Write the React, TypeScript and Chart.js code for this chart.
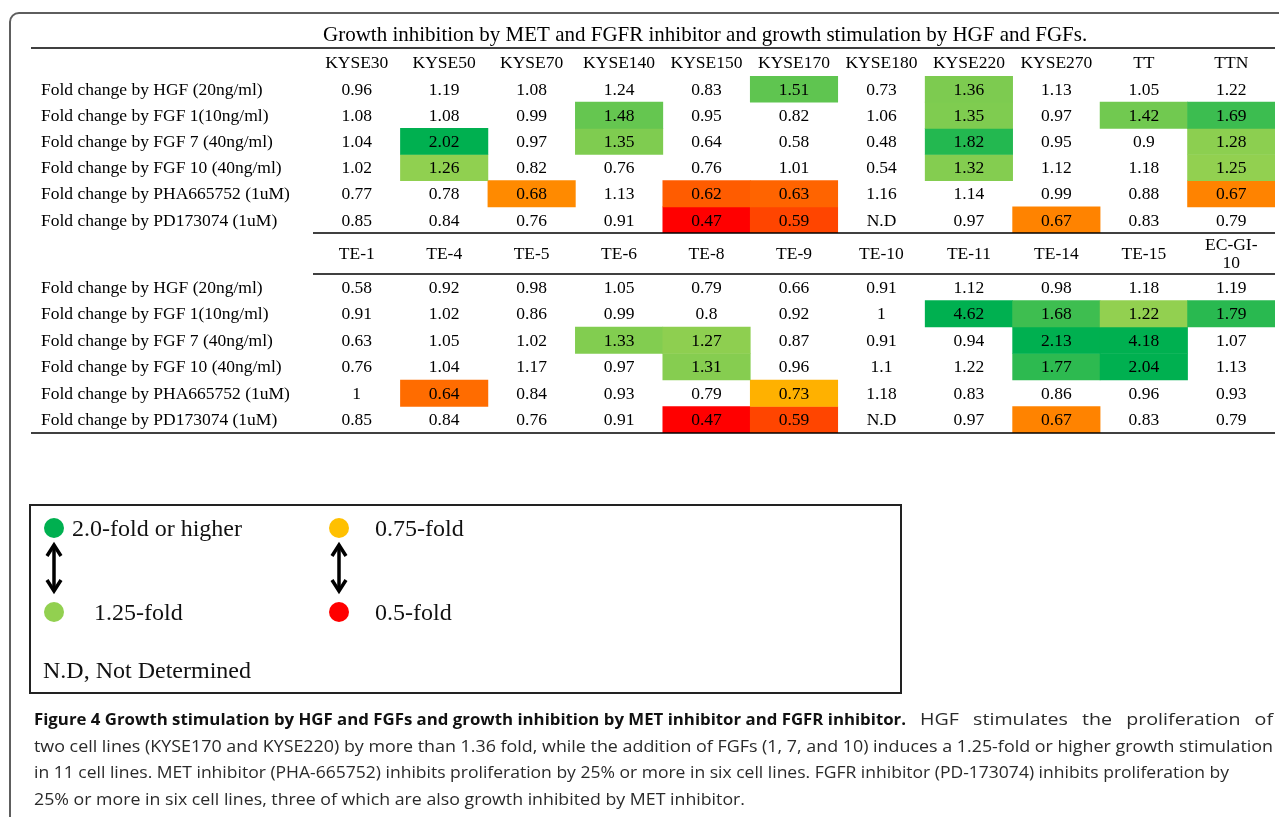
import React, { useEffect, useRef } from 'react';
import { Chart, registerables } from 'chart.js';

Chart.register(...registerables);

// ---------- data ----------
const tableTitle = 'Growth inhibition by MET and FGFR inhibitor and growth stimulation by HGF and FGFs.';

const rowLabels = [
  'Fold change by HGF (20ng/ml)',
  'Fold change by FGF 1(10ng/ml)',
  'Fold change by FGF 7 (40ng/ml)',
  'Fold change by FGF 10 (40ng/ml)',
  'Fold change by PHA665752 (1uM)',
  'Fold change by PD173074 (1uM)',
];
// first rows are stimulation (green scale), the rest inhibition (red scale)
const stimulationRowCount = 4;

const kyseColumns = ['KYSE30', 'KYSE50', 'KYSE70', 'KYSE140', 'KYSE150', 'KYSE170', 'KYSE180', 'KYSE220', 'KYSE270', 'TT', 'TTN'];
const kyseHGF = [0.96, 1.19, 1.08, 1.24, 0.83, 1.51, 0.73, 1.36, 1.13, 1.05, 1.22];
const kyseFGF1 = [1.08, 1.08, 0.99, 1.48, 0.95, 0.82, 1.06, 1.35, 0.97, 1.42, 1.69];
const kyseFGF7 = [1.04, 2.02, 0.97, 1.35, 0.64, 0.58, 0.48, 1.82, 0.95, 0.9, 1.28];
const kyseFGF10 = [1.02, 1.26, 0.82, 0.76, 0.76, 1.01, 0.54, 1.32, 1.12, 1.18, 1.25];
const kysePHA = [0.77, 0.78, 0.68, 1.13, 0.62, 0.63, 1.16, 1.14, 0.99, 0.88, 0.67];
const kysePD = [0.85, 0.84, 0.76, 0.91, 0.47, 0.59, null, 0.97, 0.67, 0.83, 0.79];
const kyseHighlight = [
  [0, 0, 0, 0, 0, 1, 0, 1, 0, 0, 0],
  [0, 0, 0, 1, 0, 0, 0, 1, 0, 1, 1],
  [0, 1, 0, 1, 0, 0, 0, 1, 0, 0, 1],
  [0, 1, 0, 0, 0, 0, 0, 1, 0, 0, 1],
  [0, 0, 1, 0, 1, 1, 0, 0, 0, 0, 1],
  [0, 0, 0, 0, 1, 1, 0, 0, 1, 0, 0],
];

const teColumns: (string | string[])[] = ['TE-1', 'TE-4', 'TE-5', 'TE-6', 'TE-8', 'TE-9', 'TE-10', 'TE-11', 'TE-14', 'TE-15', ['EC-GI-', '10']];
const teHGF = [0.58, 0.92, 0.98, 1.05, 0.79, 0.66, 0.91, 1.12, 0.98, 1.18, 1.19];
const teFGF1 = [0.91, 1.02, 0.86, 0.99, 0.8, 0.92, 1, 4.62, 1.68, 1.22, 1.79];
const teFGF7 = [0.63, 1.05, 1.02, 1.33, 1.27, 0.87, 0.91, 0.94, 2.13, 4.18, 1.07];
const teFGF10 = [0.76, 1.04, 1.17, 0.97, 1.31, 0.96, 1.1, 1.22, 1.77, 2.04, 1.13];
const tePHA = [1, 0.64, 0.84, 0.93, 0.79, 0.73, 1.18, 0.83, 0.86, 0.96, 0.93];
const tePD = [0.85, 0.84, 0.76, 0.91, 0.47, 0.59, null, 0.97, 0.67, 0.83, 0.79];
const teHighlight = [
  [0, 0, 0, 0, 0, 0, 0, 0, 0, 0, 0],
  [0, 0, 0, 0, 0, 0, 0, 1, 1, 1, 1],
  [0, 0, 0, 1, 1, 0, 0, 0, 1, 1, 0],
  [0, 0, 0, 0, 1, 0, 0, 0, 1, 1, 0],
  [0, 1, 0, 0, 0, 1, 0, 0, 0, 0, 0],
  [0, 0, 0, 0, 1, 1, 0, 0, 1, 0, 0],
];

const legendHigh = '2.0-fold or higher';
const legendMid = '1.25-fold';
const legendWarn = '0.75-fold';
const legendLow = '0.5-fold';
const legendND = 'N.D, Not Determined';

const captionBold = 'Figure 4 Growth stimulation by HGF and FGFs and growth inhibition by MET inhibitor and FGFR inhibitor.';
const captionLines = [
  'HGF stimulates the proliferation of',
  'two cell lines (KYSE170 and KYSE220) by more than 1.36 fold, while the addition of FGFs (1, 7, and 10) induces a 1.25-fold or higher growth stimulation',
  'in 11 cell lines. MET inhibitor (PHA-665752) inhibits proliferation by 25% or more in six cell lines. FGFR inhibitor (PD-173074) inhibits proliferation by',
  '25% or more in six cell lines, three of which are also growth inhibited by MET inhibitor.',
];

// ---------- styling ----------
const SERIF = '"Liberation Serif", "Times New Roman", Times, serif';
const SANS = '"Open Sans", "Noto Sans", sans-serif';
const TABLE_FONT = `17.5px ${SERIF}`;
const TITLE_FONT = `21px ${SERIF}`;

const GREEN_LOW = [0x92, 0xd0, 0x50];
const GREEN_HIGH = [0x00, 0xb0, 0x50];
const RED_LOW = [0xff, 0x00, 0x00];
const RED_HIGH = [0xff, 0xc0, 0x00];

function mix(a: number[], b: number[], t: number) {
  const k = Math.max(0, Math.min(1, t));
  const c = a.map((v, i) => Math.round(v + (b[i] - v) * k));
  return `rgb(${c[0]},${c[1]},${c[2]})`;
}

function cellColor(v: number, row: number) {
  if (row < stimulationRowCount) return mix(GREEN_LOW, GREEN_HIGH, (v - 1.25) / 0.75);
  return mix(RED_LOW, RED_HIGH, (v - 0.5) / 0.25);
}

type Rule = { at: 'headerTop' | 'top' | 'bottom'; full: boolean };
type TableCfg = {
  columns: (string | string[])[];
  rows: (number | null)[][];
  mask: number[][];
  headerHeight: number;
  padTop: number;
  padBottom: number;
  rules: Rule[];
  title?: string;
};

function makeTable(canvas: HTMLCanvasElement, cfg: TableCfg) {
  const datasets = cfg.rows.map((vals, r) => ({
    label: rowLabels[r],
    data: vals.map(() => [r, r + 1]),
    backgroundColor: vals.map((v, c) => (cfg.mask[r][c] && v != null ? cellColor(v, r) : 'rgba(0,0,0,0)')),
    borderWidth: 0,
    borderSkipped: false,
    barPercentage: 1,
    categoryPercentage: 1,
    grouped: false,
  }));

  const textPlugin = {
    id: 'tableText',
    afterDatasetsDraw(chart: any) {
      const { ctx, chartArea: a, scales } = chart;
      const y = scales.y;
      const headerTop = a.top - cfg.headerHeight;
      ctx.save();
      ctx.fillStyle = '#000';
      ctx.strokeStyle = '#000';
      ctx.lineWidth = 1.5;
      cfg.rules.forEach((rule) => {
        const yy = rule.at === 'headerTop' ? headerTop : rule.at === 'top' ? a.top : a.bottom;
        ctx.beginPath();
        ctx.moveTo(rule.full ? 0 : a.left, yy);
        ctx.lineTo(a.right, yy);
        ctx.stroke();
      });
      if (cfg.title) {
        ctx.font = TITLE_FONT;
        ctx.textAlign = 'left';
        ctx.textBaseline = 'middle';
        ctx.fillText(cfg.title, 292, headerTop - 13);
      }
      ctx.font = TABLE_FONT;
      ctx.textBaseline = 'middle';
      // cell values
      chart.data.datasets.forEach((_ds: any, r: number) => {
        const meta = chart.getDatasetMeta(r);
        meta.data.forEach((bar: any, c: number) => {
          const v = cfg.rows[r][c];
          ctx.textAlign = 'center';
          ctx.fillText(v == null ? 'N.D' : String(v), bar.x, y.getPixelForValue(r + 0.5) + 1);
        });
      });
      // row labels
      ctx.textAlign = 'left';
      rowLabels.forEach((lab, r) => ctx.fillText(lab, 10, y.getPixelForValue(r + 0.5) + 1));
      // column headers
      ctx.textAlign = 'center';
      const meta0 = chart.getDatasetMeta(0);
      cfg.columns.forEach((col, c) => {
        const lines = Array.isArray(col) ? col : [col];
        const cx = meta0.data[c].x;
        const cy = headerTop + cfg.headerHeight / 2 + 1;
        lines.forEach((ln, i) => ctx.fillText(ln, cx, cy + (i - (lines.length - 1) / 2) * 18));
      });
      ctx.restore();
    },
  };

  return new Chart(canvas, {
    type: 'bar',
    data: { labels: cfg.columns as any, datasets: datasets as any },
    options: {
      animation: false,
      responsive: false,
      maintainAspectRatio: false,
      devicePixelRatio: 1,
      events: [],
      layout: { padding: { left: 282, right: 1, top: cfg.padTop, bottom: cfg.padBottom } },
      plugins: { legend: { display: false }, tooltip: { enabled: false }, title: { display: false } },
      scales: {
        x: { type: 'category', display: false, offset: true, grid: { display: false } },
        y: { type: 'linear', display: false, min: 0, max: 6, reverse: true },
      },
    } as any,
    plugins: [textPlugin],
  });
}

const CAP_SIZE = 16.5;
function capFont(bold: boolean) {
  return `${bold ? 'bold ' : ''}${CAP_SIZE}px ${SANS}`;
}

function drawCaption(canvas: HTMLCanvasElement | null) {
  if (!canvas) return;
  const ctx = canvas.getContext('2d');
  if (!ctx) return;
  ctx.clearRect(0, 0, canvas.width, canvas.height);
  ctx.textBaseline = 'alphabetic';
  const left = 34;
  const boldEnd = 906;
  const baselines = [25, 52, 78, 105];
  const rights = [1273, 1273, 1229, 745];

  const measure = (t: string, bold: boolean) => {
    ctx.font = capFont(bold);
    return ctx.measureText(t).width;
  };
  const drawScaled = (t: string, bold: boolean, x: number, y: number, k: number) => {
    ctx.font = capFont(bold);
    ctx.fillStyle = bold ? '#111' : '#2a2a2a';
    ctx.save();
    ctx.translate(x, y);
    ctx.scale(k, 1);
    ctx.fillText(t, 0, 0);
    ctx.restore();
  };

  // lines 2-4: single run fitted to its measured width
  let kRef = 1;
  for (let i = 1; i < 4; i++) {
    const k = (rights[i] - left) / measure(captionLines[i], false);
    if (i === 1) kRef = k;
    drawScaled(captionLines[i], false, left, baselines[i], k);
  }

  // line 1: bold lead fitted to its span
  const kb = (boldEnd - left) / measure(captionBold, true);
  drawScaled(captionBold, true, left, baselines[0], kb);

  // line 1: regular part, slightly widened glyphs plus justified word gaps
  const words = captionLines[0].split(' ');
  const kr = kRef * 1.1;
  const ww = words.map((w) => measure(w, false) * kr);
  const total = ww.reduce((s, v) => s + v, 0);
  const gap = (rights[0] - boldEnd - total) / words.length;
  let x = boldEnd + gap;
  words.forEach((w, i) => {
    drawScaled(w, false, x, baselines[0], kr);
    x += ww[i] + gap;
  });
}

function Arrow({ x }: { x: number }) {
  return (
    <g stroke="#000" strokeWidth={3.5} fill="none" strokeLinecap="butt" strokeLinejoin="miter">
      <line x1={x} y1={546} x2={x} y2={590} />
      <polyline points={`${x - 7},${556} ${x},${545} ${x + 7},${556}`} />
      <polyline points={`${x - 7},${580} ${x},${591} ${x + 7},${580}`} />
    </g>
  );
}

export default function App() {
  const c1 = useRef<HTMLCanvasElement>(null);
  const c2 = useRef<HTMLCanvasElement>(null);
  const cap = useRef<HTMLCanvasElement>(null);

  useEffect(() => {
    if (!c1.current || !c2.current) return;
    const ch1 = makeTable(c1.current, {
      columns: kyseColumns,
      rows: [kyseHGF, kyseFGF1, kyseFGF7, kyseFGF10, kysePHA, kysePD],
      mask: kyseHighlight,
      headerHeight: 28,
      padTop: 56,
      padBottom: 1,
      rules: [{ at: 'headerTop', full: true }],
      title: tableTitle,
    });
    const ch2 = makeTable(c2.current, {
      columns: teColumns,
      rows: [teHGF, teFGF1, teFGF7, teFGF10, tePHA, tePD],
      mask: teHighlight,
      headerHeight: 41,
      padTop: 45,
      padBottom: 2,
      rules: [
        { at: 'headerTop', full: false },
        { at: 'top', full: false },
        { at: 'bottom', full: true },
      ],
    });
    drawCaption(cap.current);
    let alive = true;
    const fonts: any = (document as any).fonts;
    if (fonts && fonts.ready) {
      fonts.ready.then(() => {
        if (!alive) return;
        ch1.draw();
        ch2.draw();
        drawCaption(cap.current);
      });
    }
    return () => {
      alive = false;
      ch1.destroy();
      ch2.destroy();
    };
  }, []);

  const legendText = { fontFamily: SERIF, fontSize: 24, fill: '#111' } as any;

  return (
    <div style={{ position: 'fixed', left: 0, top: 0, width: 1279, height: 817, overflow: 'hidden', background: '#fff' }}>
      <div
        style={{
          position: 'absolute',
          left: 9,
          top: 12,
          width: 1320,
          height: 900,
          border: '2px solid #5e5e5e',
          borderRadius: 10,
          boxSizing: 'border-box',
        }}
      />
      <canvas ref={c1} width={1245} height={214} style={{ position: 'absolute', left: 31, top: 20, width: 1245, height: 214 }} />
      <canvas ref={c2} width={1245} height={206} style={{ position: 'absolute', left: 31, top: 229, width: 1245, height: 206 }} />
      <svg width={1279} height={817} style={{ position: 'absolute', left: 0, top: 0, pointerEvents: 'none' }}>
        <rect x={30} y={505} width={871} height={188} fill="none" stroke="#222" strokeWidth={2} />
        <circle cx={54} cy={528} r={10} fill="#00B050" />
        <circle cx={54} cy={612} r={10} fill="#92D050" />
        <circle cx={339} cy={528} r={10} fill="#FFC000" />
        <circle cx={339} cy={612} r={10} fill="#FF0000" />
        <Arrow x={54} />
        <Arrow x={339} />
        <text x={72} y={536} {...legendText}>{legendHigh}</text>
        <text x={94} y={620} {...legendText}>{legendMid}</text>
        <text x={375} y={536} {...legendText}>{legendWarn}</text>
        <text x={375} y={620} {...legendText}>{legendLow}</text>
        <text x={43} y={678} {...legendText}>{legendND}</text>
      </svg>
      <canvas ref={cap} width={1279} height={117} style={{ position: 'absolute', left: 0, top: 700, width: 1279, height: 117 }} />
    </div>
  );
}
